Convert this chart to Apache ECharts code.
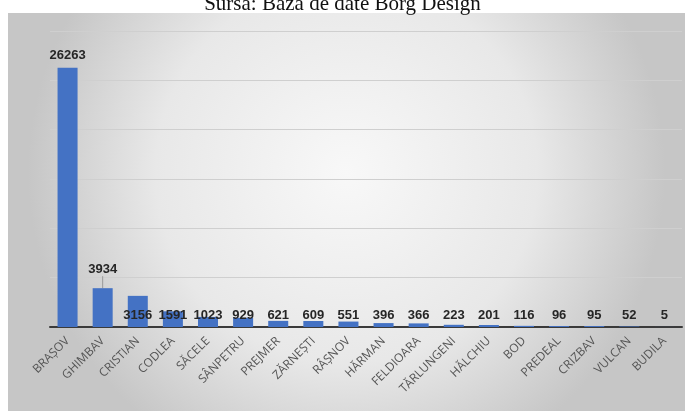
<!DOCTYPE html>
<html>
<head>
<meta charset="utf-8">
<script src="https://cdn.jsdelivr.net/npm/echarts@6/dist/echarts.min.js"></script>
<style>
  html, body { margin: 0; padding: 0; background: #ffffff; }
  #chart { width: 685px; height: 411px; }
</style>
</head>
<body>
<div id="chart"></div>
<script>
var chartDom = document.getElementById("chart")
var chart = echarts.init(chartDom)

var titleText = "Sursa: Baza de date Borg Design"

var localitati = [
  "BRAȘOV", "GHIMBAV", "CRISTIAN", "CODLEA", "SĂCELE", "SÂNPETRU",
  "PREJMER", "ZĂRNEȘTI", "RÂȘNOV", "HĂRMAN", "FELDIOARA", "TĂRLUNGENI",
  "HĂLCHIU", "BOD", "PREDEAL", "CRIZBAV", "VULCAN", "BUDILA"
]
var valori = [
  26263, 3934, 3156, 1591, 1023, 929,
  621, 609, 551, 396, 366, 223,
  201, 116, 96, 95, 52, 5
]

// first two labels sit above their bar, the rest in one row at the bottom
function getSeriesData() {
  var out = []
  for (var i = 0; i < valori.length; i++) {
    var item = { value: valori[i], labelLine: { show: false } }
    if (i === 0) {
      item.label = { position: "top", distance: 6 }
    } else if (i === 1) {
      item.label = { position: "top", distance: 2 }
      item.labelLine = { show: true }
    }
    out.push(item)
  }
  return out
}

var option = {
  backgroundColor: "#ffffff",
  animation: false,
  title: {
    text: titleText,
    left: "center",
    top: -11,
    textStyle: {
      fontFamily: "Liberation Serif",
      fontWeight: "normal",
      fontSize: 21,
      color: "#111111",
    },
  },
  graphic: [
    {
      type: "rect",
      z: -10,
      shape: { x: 8, y: 13, width: 677, height: 398 },
      style: {
        fill: new echarts.graphic.RadialGradient(0.5, 0.4, 0.8, [
          { offset: 0, color: "#f8f8f8" },
          { offset: 0.6, color: "#e8e8e8" },
          { offset: 1, color: "#c6c6c6" },
        ]),
      },
    },
  ],
  grid: {
    left: 50,
    right: 3,
    top: 31,
    bottom: 84,
  },
  xAxis: {
    type: "category",
    data: localitati,
    axisTick: { show: false },
    axisLine: { lineStyle: { color: "#3a3a3a", width: 2 } },
    axisLabel: {
      rotate: 45,
      interval: 0,
      margin: 12,
      fontFamily: "Open Sans",
      fontSize: 12,
      color: "#555555",
    },
  },
  yAxis: {
    type: "value",
    min: 0,
    max: 30000,
    interval: 5000,
    axisLabel: { show: false },
    axisLine: { show: false },
    axisTick: { show: false },
    splitLine: { lineStyle: { color: "#cfcfcf", width: 1 } },
  },
  series: [
    {
      type: "bar",
      data: getSeriesData(),
      barWidth: "57%",
      itemStyle: { color: "#4472c4" },
      label: {
        show: true,
        position: "insideBottom",
        distance: 5,
        fontFamily: "Liberation Sans",
        fontWeight: "bold",
        fontSize: 13,
        color: "#262626",
      },
      labelLine: { lineStyle: { color: "#999999", width: 1 } },
      labelLayout: function (params) {
        if (params.dataIndex === 1) return { dy: -10 }
        return {}
      },
    },
  ],
}

chart.setOption(option)
</script>
</body>
</html>
